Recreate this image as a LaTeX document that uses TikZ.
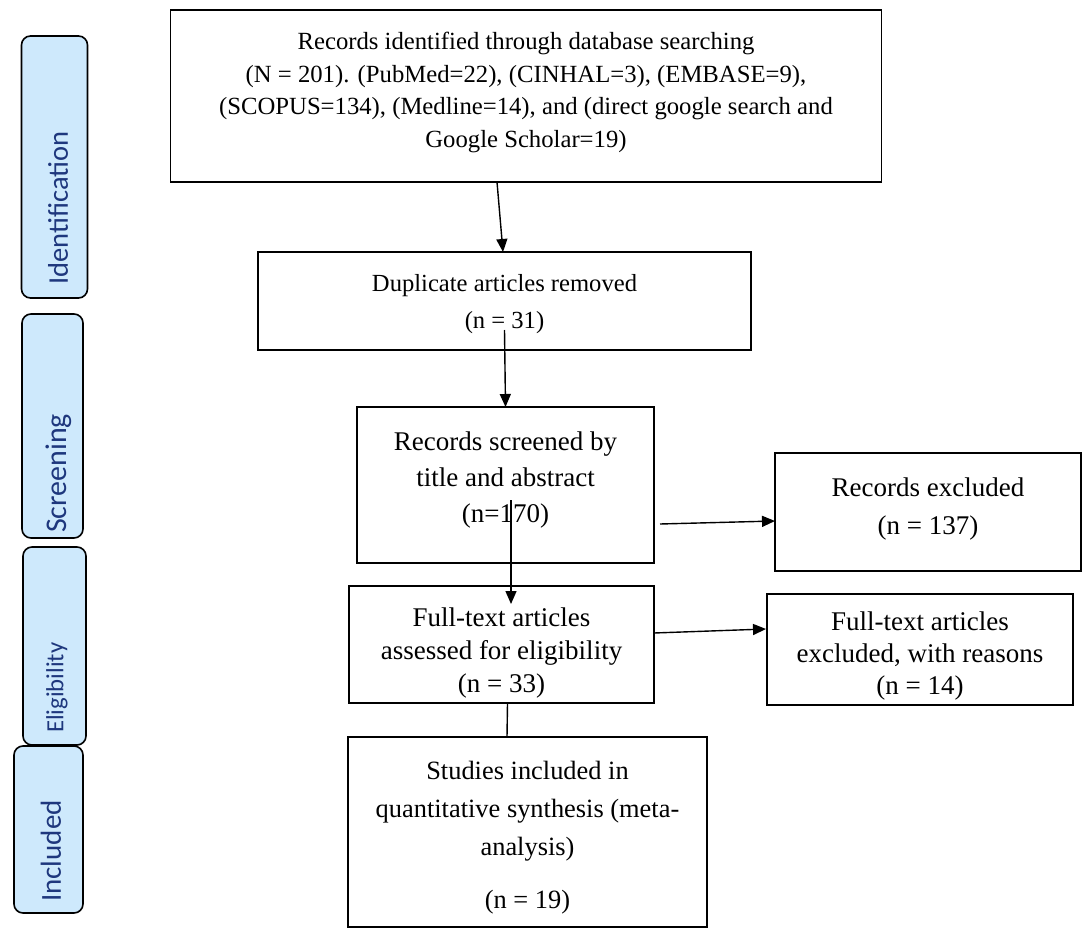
\documentclass[tikz,border=0pt]{standalone}
\usepackage{fontspec}
\setmainfont{Liberation Serif}
\newfontfamily\sidefont{Carlito}
\usetikzlibrary{arrows.meta}
\definecolor{sidefill}{RGB}{206,233,252}
\definecolor{sidetext}{RGB}{30,55,125}
\newcommand\btext[4]{\raisebox{#1}[\height][\depth]{\fontsize{#2}{#3}\selectfont\begin{tabular}{@{}c@{}}#4\end{tabular}}}
\begin{document}
\begin{tikzpicture}[x=1pt,y=-1pt,
 box/.style={draw, line width=1.6pt, rectangle, inner sep=0pt, outer sep=0pt},
 side/.style={draw, line width=1.6pt, rounded corners=9pt, fill=sidefill, inner sep=0pt, outer sep=0pt},
 sidelab/.style={text=sidetext, rotate=90, anchor=west, inner sep=0pt},
 arr/.style={line width=1.4pt, -{Triangle[length=13pt,width=11pt]}},
 ln/.style={line width=1.4pt}]
\fill[white] (0,0) rectangle (1084,933);
\useasboundingbox (0,0) rectangle (1084,933);

% side boxes
\node[side, minimum width=66pt, minimum height=262pt] (idbox) at (54.5,167) {};
\node[side, minimum width=61pt, minimum height=224pt] (scbox) at (52.5,426) {};
\node[side, minimum width=63pt, minimum height=198pt] (elbox) at (54.5,646) {};
\node[side, minimum width=69pt, minimum height=167pt] (inbox) at (48.5,829.5) {};
\node[sidelab, font={\sidefont\fontsize{28.5}{30}\selectfont}] (idlab) at ([xshift=3.5pt,yshift=13pt]idbox.south) {Identification};
\node[sidelab, font={\sidefont\fontsize{30}{32}\selectfont}] (sclab) at ([xshift=6.5pt,yshift=5pt]scbox.south) {Screening};
\node[sidelab, font={\sidefont\fontsize{24.7}{26}\selectfont}] (ellab) at ([xshift=2.5pt,yshift=12pt]elbox.south) {Eligibility};
\node[sidelab, font={\sidefont\fontsize{29}{31}\selectfont}] (inlab) at ([xshift=2.5pt,yshift=11pt]inbox.south) {Included};

% main boxes
\node[box, minimum width=711pt, minimum height=172pt] (top) at (526,96)
 {\btext{4pt}{24.7}{32.5}{Records identified through database searching\\(N = 201). (PubMed=22), (CINHAL=3), (EMBASE=9),\\(SCOPUS=134), (Medline=14), and (direct google search and\\Google Scholar=19)}};
\node[box, minimum width=493pt, minimum height=98pt] (dup) at (504.5,301)
 {\btext{-1.5pt}{24.6}{37}{Duplicate articles removed\\(n = 31)}};
\node[box, minimum width=297pt, minimum height=156pt] (screen) at (505.5,485)
 {\btext{6pt}{27}{36}{Records screened by\\title and abstract\\(n=170)}};
\node[box, minimum width=305pt, minimum height=117pt] (full) at (501.5,644.5)
 {\btext{-8.5pt}{27}{33}{Full-text articles\\assessed for eligibility\\(n = 33)}};
\node[box, minimum width=306pt, minimum height=118pt] (recex) at (928,512)
 {\btext{4pt}{27}{38}{Records excluded\\(n = 137)}};
\node[box, minimum width=306pt, minimum height=111pt] (ftex) at (920,649.5)
 {\btext{-6.5pt}{27}{32}{Full-text articles\\excluded, with reasons\\(n = 14)}};
\node[box, minimum width=359pt, minimum height=190pt] (stud) at (527.5,832)
 {\btext{-4.5pt}{26.4}{38}{Studies included in\\quantitative synthesis (meta-\\analysis)\\[15pt](n = 19)}};

% connectors
\draw[arr] ([xshift=-29pt]top.south) -- ([xshift=-1.5pt]dup.north);
\draw[arr] ([yshift=20pt]dup.south) -- (screen.north);
\draw[arr] ([xshift=5.5pt,yshift=63pt]screen.south) -- ([xshift=9.5pt,yshift=-18pt]full.north);
\draw[arr] ([xshift=6pt,yshift=-39pt]screen.east) -- ([yshift=-9pt]recex.west);
\draw[arr] ([yshift=11.5pt]full.east) -- ([xshift=-1pt,yshift=20.5pt]ftex.west);
\draw[ln] ([xshift=6pt]full.south) -- ([xshift=-20.5pt]stud.north);
\end{tikzpicture}
\end{document}
